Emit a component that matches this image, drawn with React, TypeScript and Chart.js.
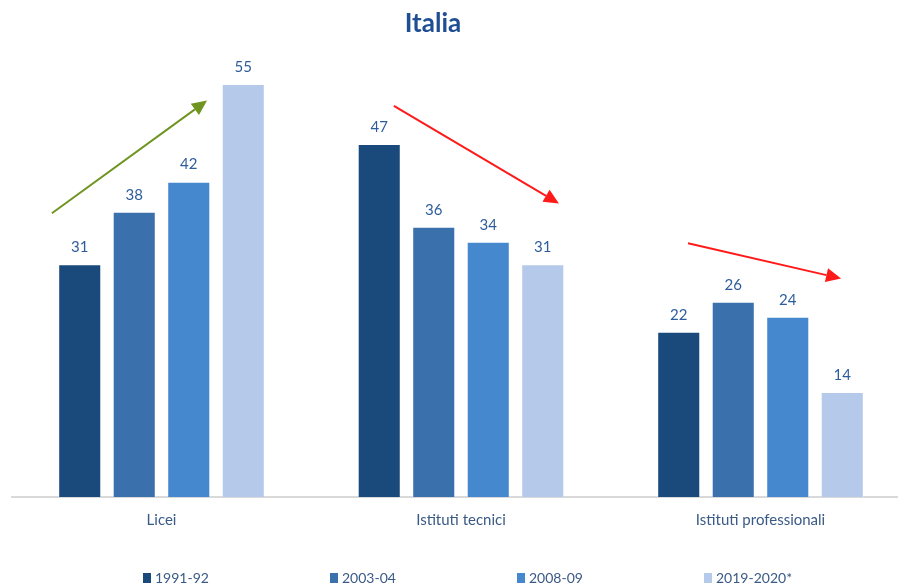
import React, { useEffect, useRef } from "react";
import { Chart, registerables } from "chart.js";

Chart.register(...registerables);

const categories = ["Licei", "Istituti tecnici", "Istituti professionali"];
const seriesLabels = ["1991-92", "2003-04", "2008-09", "2019-2020*"];
const values1991 = [31, 47, 22];
const values2003 = [38, 36, 26];
const values2008 = [42, 34, 24];
const values2019 = [55, 31, 14];
const seriesColors = ["#1a4a7b", "#3a71ac", "#4588cd", "#b5c9ea"];
const titleText = "Italia";

// trend arrows in data coordinates: [xIndexStart, yStart, xIndexEnd, yEnd]
const arrowGreen = [-0.366, 37.8, 0.152, 52.8];
const arrowRed1 = [0.776, 52.1, 1.327, 39.1];
const arrowRed2 = [1.758, 33.8, 2.269, 29.1];
const arrows = [
  { pts: arrowGreen, color: "#6f9420" },
  { pts: arrowRed1, color: "#ff1a1a" },
  { pts: arrowRed2, color: "#ff1a1a" },
];

const FONT = "Lato, 'Open Sans', sans-serif";

export default function App() {
  const ref = useRef<HTMLCanvasElement>(null);
  useEffect(() => {
    if (!ref.current) return;
    const allValues = [values1991, values2003, values2008, values2019];
    const extras = {
      id: "extras",
      afterDatasetsDraw(chart: any) {
        const ctx = chart.ctx;
        const xs = chart.scales.x;
        const ys = chart.scales.y;
        ctx.save();
        // value labels
        ctx.font = `15px ${FONT}`;
        ctx.fillStyle = "#2e5d9c";
        ctx.textAlign = "center";
        ctx.textBaseline = "middle";
        chart.data.datasets.forEach((ds: any, di: number) => {
          const meta = chart.getDatasetMeta(di);
          meta.data.forEach((bar: any, i: number) => {
            ctx.fillText(String(ds.data[i]), bar.x, bar.y - 17);
          });
        });
        // arrows
        arrows.forEach((a) => {
          const x1 = xs.getPixelForValue(a.pts[0]);
          const y1 = ys.getPixelForValue(a.pts[1]);
          const x2 = xs.getPixelForValue(a.pts[2]);
          const y2 = ys.getPixelForValue(a.pts[3]);
          const ang = Math.atan2(y2 - y1, x2 - x1);
          const hl = 15;
          const hw = 7;
          const bx = x2 - hl * Math.cos(ang);
          const by = y2 - hl * Math.sin(ang);
          ctx.strokeStyle = a.color;
          ctx.fillStyle = a.color;
          ctx.lineWidth = 2;
          ctx.beginPath();
          ctx.moveTo(x1, y1);
          ctx.lineTo(bx, by);
          ctx.stroke();
          ctx.beginPath();
          ctx.moveTo(x2, y2);
          ctx.lineTo(bx + hw * Math.sin(ang), by - hw * Math.cos(ang));
          ctx.lineTo(bx - hw * Math.sin(ang), by + hw * Math.cos(ang));
          ctx.closePath();
          ctx.fill();
        });
        // title
        ctx.font = `bold 26px ${FONT}`;
        ctx.fillStyle = "#1f4e93";
        ctx.textAlign = "center";
        ctx.textBaseline = "middle";
        ctx.fillText(titleText, 433, 24);
        // legend
        ctx.font = `14px ${FONT}`;
        ctx.textAlign = "left";
        seriesLabels.forEach((lab, i) => {
          const x = 143 + i * 187;
          ctx.fillStyle = seriesColors[i];
          ctx.fillRect(x, 573, 8, 10);
          ctx.fillStyle = "#3a5a86";
          ctx.fillText(lab, x + 12, 578);
        });
        ctx.restore();
      },
    };
    const chart = new Chart(ref.current, {
      type: "bar",
      data: {
        labels: categories,
        datasets: seriesLabels.map((l, i) => ({
          label: l,
          data: allValues[i],
          backgroundColor: seriesColors[i],
          borderColor: "rgba(255,255,255,0.35)",
          borderWidth: 1,
          categoryPercentage: 0.728,
          barPercentage: 0.79,
        })),
      },
      options: {
        animation: false,
        responsive: false,
        maintainAspectRatio: false,
        layout: { padding: { left: 11.75, right: 9.75, top: 46.5, bottom: 44 } },
        plugins: {
          legend: { display: false },
          title: { display: false },
          tooltip: { enabled: false },
        },
        scales: {
          x: {
            grid: { display: false, drawTicks: false },
            border: { display: true, color: "#d9d9d9", width: 2 },
            ticks: {
              padding: 14,
              color: "#3a5a86",
              font: { family: FONT, size: 15 },
            },
          },
          y: {
            display: false,
            min: 0,
            max: 60,
          },
        },
      },
      plugins: [extras],
    });
    return () => chart.destroy();
  }, []);
  return (
    <div
      style={{
        position: "absolute",
        left: 0,
        top: 0,
        width: 898,
        height: 587,
        overflow: "hidden",
        background: "#fff",
      }}
    >
      <canvas ref={ref} width={920} height={587} style={{ width: 920, height: 587 }} />
    </div>
  );
}
